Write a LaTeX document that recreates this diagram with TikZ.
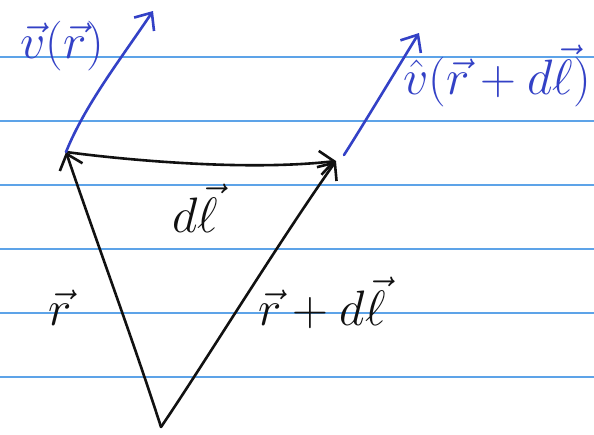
\documentclass[tikz,border=0pt]{standalone}
\usepackage{amsmath}
\usetikzlibrary{calc, arrows.meta}
\definecolor{inkblue}{HTML}{3341C6}
\definecolor{inkdark}{HTML}{111111}
\definecolor{ruleblue}{HTML}{5DA3E8}

\begin{document}
\begin{tikzpicture}[
    x=1pt, y=-1pt,
    ink/.style={line width=2.6pt, line cap=round, line join=round},
    rule/.style={line width=1.6pt, ruleblue},
    lbl/.style={font=\Huge, scale=2, transform shape, inner sep=0pt},
    >={Straight Barb[length=14pt, width=24pt]}
]

% Paper
\fill[white] (0,0) rectangle (594,434);
\useasboundingbox (0,0) rectangle (594,434);
\foreach \y in {57,121,...,377}
    \draw[rule] (0,\y) -- (594,\y);

% Corners
\coordinate (O) at (161,427);
\coordinate (P) at (66,152);
\coordinate (Q) at (336,161);

% Position vectors
\draw[->, ink, inkdark] (O) .. controls (133,340) and (98,246) .. (P);
\draw[->, ink, inkdark] (O) .. controls (200,370) and (280,240) .. (Q);

% Step
\draw[->, ink, inkdark] (P) .. controls (110,158) and (240,172) .. (Q);

% Field vectors
\coordinate (Vtip) at (153,11);
\draw[->, ink, inkblue] (P) .. controls (85,105) and (120,60) .. (Vtip);
\coordinate (Qv) at (344,155);
\coordinate (Wtip) at (419,33);
\draw[->, ink, inkblue] (Qv) .. controls (365,122) and (395,72) .. (Wtip);

% Labels
\node[lbl, text=inkblue] (vr) at (62,46) {$\vec{v}(\vec{r})$};
\node[lbl, text=inkblue] (vrdl) at (497,76) {$\hat{v}(\vec{r}+d\vec{\ell})$};
\node[lbl, text=inkdark] (dl) at (195,208) {$d\vec{\ell}$};
\node[lbl, text=inkdark] (r) at (60,308) {$\vec{r}$};
\node[lbl, text=inkdark] (rdl) at (322,303) {$\vec{r}+d\vec{\ell}$};

\end{tikzpicture}
\end{document}
